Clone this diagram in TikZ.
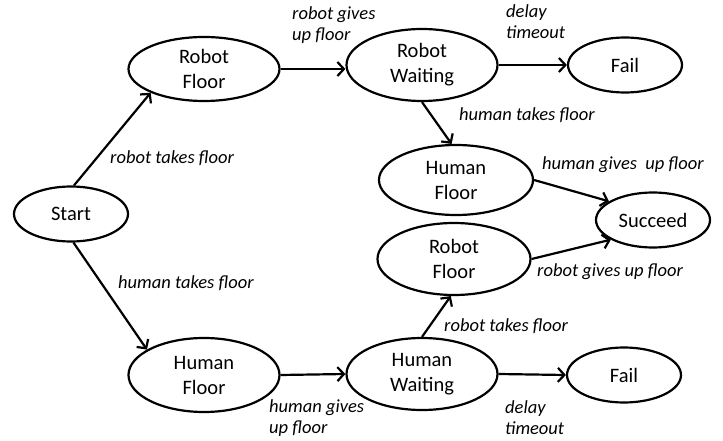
\documentclass[tikz,border=0pt]{standalone}
\usepackage{fontspec}
\setmainfont{Carlito}
\usetikzlibrary{shapes.geometric, arrows.meta}
\tikzset{
  oval/.style={
    ellipse,
    inner sep=0pt,
    minimum width=151pt,
    minimum height=72pt,
    align=center,
    line width=2.2pt,
    draw=black,
    font=\fontsize{20.5}{25}\selectfont
  },
  small/.style={oval, minimum width=114pt, minimum height=55pt},
  arrow/.style={line width=2.2pt, -{Straight Barb[length=6.5pt,width=14pt,line width=2.2pt]}},
  note/.style={
    anchor=west,
    inner sep=0pt,
    align=left,
    font=\fontsize{18.5}{21}\selectfont\itshape
  }
}
\begin{document}
\begin{tikzpicture}[x=1pt, y=-1pt]
  \useasboundingbox (0,0) rectangle (723,441);
  % states
  \node (start) [small] at (71,214) {Start};
  \node (rf1) [oval, minimum height=64pt] at (204,69) {Robot\\Floor};
  \node (rw) [oval] at (422,65) {Robot\\Waiting};
  \node (fail1) [small] at (625,65) {Fail};
  \node (hf2) [oval, minimum width=154pt, minimum height=70pt] at (456,180) {Human\\Floor};
  \node (succ) [small] at (653,220) {Succeed};
  \node (rf2) [oval, minimum width=153pt] at (454,259) {Robot\\Floor};
  \node (hf1) [oval, minimum height=74pt] at (204,375) {Human\\Floor};
  \node (hw) [oval] at (422,374) {Human\\Waiting};
  \node (fail2) [small] at (624,375) {Fail};
  % transitions
  \draw [arrow] (start.84) -- (rf1.204);
  \draw [arrow] (start.275) -- (hf1.156);
  \draw [arrow] (rf1.east) -- (rf1.east -| rw.west);
  \draw [arrow] (rw.east) -- (fail1.west);
  \draw [arrow] (rw.270) -- (hf2.97);
  \draw [arrow] (hf2.east) -- (succ.157);
  \draw [arrow] (rf2.east) -- (succ.205);
  \draw [arrow] (hf1.east) -- (hw.west);
  \draw [arrow] (hw.east) -- (fail2.west);
  \draw [arrow] (hw.90) -- (rf2.265);
  % labels
  \node (l1) [note] at (292,25) {robot gives\\up floor};
  \node (l2) [note] at (506,22) {delay\\timeout};
  \node (l3) [note] at (110,158) {robot takes floor};
  \node (l4) [note] at (459,115) {human takes floor};
  \node (l5) [note] at (542,165) {human gives~ up floor};
  \node (l6) [note] at (118,283) {human takes floor};
  \node (l7) [note] at (537,272) {robot gives up floor};
  \node (l8) [note] at (444,326) {robot takes floor};
  \node (l9) [note] at (269,418) {human gives\\up floor};
  \node (l10) [note] at (505,418) {delay\\timeout};
\end{tikzpicture}
\end{document}
